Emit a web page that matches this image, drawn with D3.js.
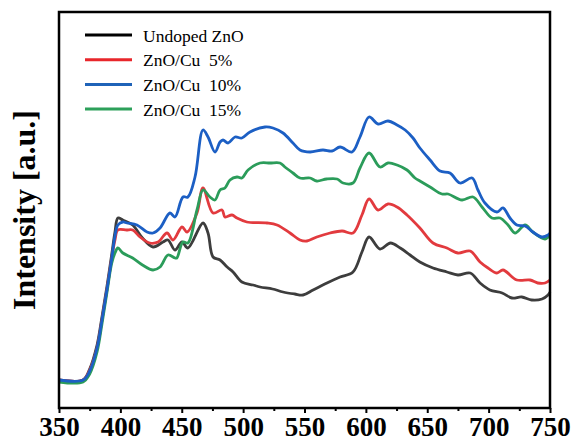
<!DOCTYPE html>
<html>
<head>
<meta charset="utf-8">
<script src="https://cdn.jsdelivr.net/npm/d3@7"></script>
<style>
  body { margin: 0; background: #fff; }
  svg { display: block; }
  .tick_label { font-family: "Liberation Serif", "Times New Roman", serif; font-weight: bold; font-size: 27px; }
  .legend_text { font-family: "Liberation Serif", "Times New Roman", serif; font-size: 17.5px; white-space: pre; }
  .y_label { font-family: "Liberation Serif", "Times New Roman", serif; font-weight: bold; font-size: 32px; }
</style>
</head>
<body>
<div id="chart"></div>
<script>
// wavelength (nm) ticks
var x_ticks = [350, 400, 450, 500, 550, 600, 650, 700, 750];
var x_minor = [375, 425, 475, 525, 575, 625, 675, 725];
var series_names = ['Undoped ZnO', 'ZnO/Cu  5%', 'ZnO/Cu  10%', 'ZnO/Cu  15%'];
var series_colors = ['#3d3d3d', '#e23a3e', '#1c5fc4', '#2b9c5a'];
var legend_colors = ['#000000', '#e8262b', '#1f63b8', '#2ca05a'];

// [wavelength, intensity a.u.]
var undoped = [[350,28],[369.6,28],[375,39],[381,63],[385,91],[389,121],[393,154],[395.6,176],[398,190],[402,188],[410,183],[418,170],[426.6,161],[434.7,166],[438.8,168],[444.5,158],[450.2,166],[455,160],[467.3,185],[471.4,175],[475.5,151],[481.2,148],[487,141],[491.8,136],[499,126],[508,123],[513.8,121],[524,119],[532.5,116],[542,114],[548.8,113],[557,118],[568.3,125],[579,131],[589.5,136],[596.8,156],[602.6,171],[611.5,159],[620,165],[628,160],[636,153],[644,146],[654.7,140],[666,136],[675,133],[685,135],[693,125],[701,118],[711,115],[719,110],[727,111],[735,108],[743.5,109],[748.4,113],[750,116]];
var cu5 = [[350,28],[369.6,28],[375,38],[381,60],[385,88],[389,118],[393,150],[395.6,168],[398,178],[405,178],[410,178],[416,171],[424,165],[430.7,166],[438,175],[442.9,168],[450.2,181],[454.3,176],[462.4,195],[467.3,220],[475.5,195],[482.8,198],[485.2,191],[490.9,193],[495,190],[503,186],[519.5,185],[527.6,183],[538.2,175],[546.3,168],[552,167],[560,171],[570.8,175],[580.6,177],[589.5,175],[596.8,193],[602.6,209],[610,198],[618,204],[625.4,201],[633.5,193],[644,180],[654.7,165],[666,160],[675,155],[685,157],[693,146],[699.5,140],[706.8,135],[711.7,138],[723,128],[733.7,128],[740,125],[746,125],[750,128]];
var cu10 = [[350,28],[369.6,28],[375,37],[381,60],[385,88],[389,118],[393,150],[395.6,172],[398,183],[402,186],[405.4,185],[413.5,183],[421.7,176],[426.6,175],[432.3,180],[440.4,195],[444.5,191],[451,211],[455,211],[460.8,231],[467.3,278],[471.4,271],[477.1,256],[481.2,266],[483.6,268],[487.7,265],[493.4,271],[499,270],[505.6,276],[517.8,281],[524.3,280],[532.5,275],[540.6,265],[546.3,258],[554.5,256],[565,258],[572.4,257],[579,261],[588.7,256],[595.2,271],[602.6,291],[610,284],[618,287],[625.4,283],[632,278],[638.4,270],[644,260],[652.3,248],[660.4,237],[668.5,235],[676.7,225],[686.5,230],[691.3,218],[697,205],[706.8,196],[711.7,200],[717.4,190],[723,183],[729.7,182],[736,176],[743.5,171],[748.4,173],[750,175]];
var cu15 = [[350,26],[369.6,26],[375,34],[381,56],[385,84],[389,115],[393,145],[395.6,155],[398,160],[402,155],[410,150],[418,143],[426.6,138],[432.3,141],[438.8,153],[444.5,150],[446,150],[451,166],[455,165],[462.4,198],[467.3,218],[473,211],[477,208],[481.2,218],[485.2,220],[489.3,228],[495,231],[499,230],[504,238],[513.8,245],[521.9,245],[530,245],[534,241],[540.6,235],[546.3,230],[554.5,230],[560,227],[568,229],[576.5,229],[581.4,225],[589.5,225],[595.2,240],[602.6,255],[611.5,241],[618,245],[625.4,243],[633.5,238],[640,230],[644,227],[652.3,221],[662,214],[667,214],[678.3,208],[687.3,211],[694.6,201],[702.7,190],[709.3,190],[715.8,183],[721.5,175],[729.7,183],[736,176],[746,169],[750,173]];

var all_series = [undoped, cu5, cu10, cu15];

var width = 575, height = 447;
var margin = {left: 59, right: 25, top: 12, bottom: 39};

var svg = d3.select('#chart').append('svg').attr('width', width).attr('height', height);

var x_scale = d3.scaleLinear().domain([350, 750]).range([margin.left, width - margin.right]);
var y_scale = d3.scaleLinear().domain([0, 396]).range([height - margin.bottom, margin.top]);

// curves
var line = d3.line().x(d => x_scale(d[0])).y(d => y_scale(d[1])).curve(d3.curveCatmullRom.alpha(0.5));
var order = [0, 1, 3, 2];
order.forEach(function (i) {
    svg.append('path')
        .datum(all_series[i])
        .attr('d', line)
        .attr('fill', 'none')
        .attr('stroke', series_colors[i])
        .attr('stroke-width', 2.8)
        .attr('stroke-linejoin', 'round');
});

// bottom axis, major + minor ticks
var x_axis = svg.append('g')
    .attr('transform', 'translate(0,' + (height - margin.bottom) + ')')
    .call(d3.axisBottom(x_scale).tickValues(x_ticks).tickSize(5).tickSizeOuter(0).tickPadding(4));
x_axis.select('.domain').remove();
x_axis.selectAll('line').attr('stroke', '#000').attr('stroke-width', 2);
x_axis.selectAll('text').attr('class', 'tick_label').attr('fill', '#000').attr('dy', '0.71em');

var x_minor_axis = svg.append('g')
    .attr('transform', 'translate(0,' + (height - margin.bottom) + ')')
    .call(d3.axisBottom(x_scale).tickValues(x_minor).tickSize(3).tickFormat(''));
x_minor_axis.select('.domain').remove();
x_minor_axis.selectAll('line').attr('stroke', '#000').attr('stroke-width', 2);

// frame
svg.append('rect')
    .attr('x', margin.left).attr('y', margin.top)
    .attr('width', width - margin.left - margin.right)
    .attr('height', height - margin.top - margin.bottom)
    .attr('fill', 'none').attr('stroke', '#000').attr('stroke-width', 2.5);

// y label
svg.append('text')
    .attr('class', 'y_label')
    .attr('transform', 'translate(35,210) rotate(-90)')
    .attr('text-anchor', 'middle')
    .attr('textLength', 200)
    .attr('lengthAdjust', 'spacingAndGlyphs')
    .text('Intensity [a.u.]');

// legend
var legend = svg.append('g').attr('class', 'legend');
series_names.forEach(function (name, i) {
    var cy = 35 + i * 24.7;
    legend.append('line')
        .attr('x1', 85).attr('x2', 132)
        .attr('y1', cy).attr('y2', cy)
        .attr('stroke', legend_colors[i]).attr('stroke-width', 3);
    legend.append('text')
        .attr('class', 'legend_text')
        .attr('x', 143).attr('y', cy + 6.5)
        .text(name);
});
</script>
</body>
</html>
